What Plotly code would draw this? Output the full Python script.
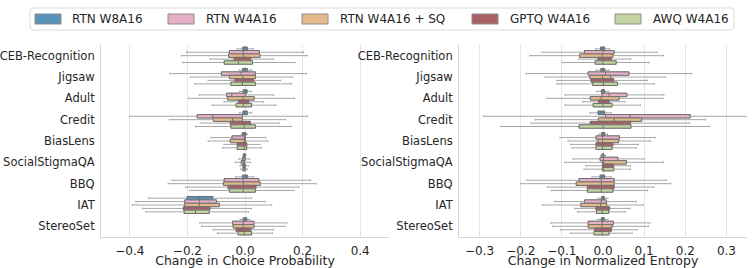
import plotly.graph_objects as go

categories = ["CEB-Recognition", "Jigsaw", "Adult", "Credit", "BiasLens",
              "SocialStigmaQA", "BBQ", "IAT", "StereoSet"]
methods = ["RTN W8A16", "RTN W4A16", "RTN W4A16 + SQ", "GPTQ W4A16", "AWQ W4A16"]
colors = ["#5a91b9", "#e8b0c8", "#e6b98c", "#aa5f64", "#c4d4a0"]

# each row: [lower whisker, q1, median, q3, upper whisker], one row per category
prob_rtn_w8 = [
    [-0.027, -0.008, 0.000, 0.008, 0.029],
    [-0.020, -0.008, 0.000, 0.008, 0.023],
    [-0.020, -0.006, 0.001, 0.007, 0.023],
    [-0.020, -0.007, 0.000, 0.008, 0.023],
    [-0.013, -0.008, -0.002, 0.003, 0.008],
    [-0.008, -0.005, -0.002, 0.001, 0.004],
    [-0.032, -0.009, 0.001, 0.009, 0.031],
    [-0.335, -0.201, -0.159, -0.112, 0.023],
    [-0.017, -0.006, 0.000, 0.006, 0.017],
]
prob_rtn_w4 = [
    [-0.203, -0.054, -0.006, 0.050, 0.203],
    [-0.261, -0.082, -0.014, 0.036, 0.214],
    [-0.159, -0.064, -0.046, 0.001, 0.099],
    [-0.400, -0.166, -0.112, -0.009, 0.217],
    [-0.118, -0.045, -0.002, 0.001, 0.072],
    [-0.022, -0.009, -0.003, 0.001, 0.016],
    [-0.253, -0.072, -0.006, 0.048, 0.228],
    [-0.379, -0.209, -0.159, -0.099, 0.070],
    [-0.157, -0.043, -0.006, 0.031, 0.145],
]
prob_rtn_w4_sq = [
    [-0.221, -0.057, -0.006, 0.052, 0.217],
    [-0.189, -0.054, -0.008, 0.036, 0.166],
    [-0.197, -0.060, -0.006, 0.032, 0.172],
    [-0.263, -0.110, -0.043, -0.009, 0.141],
    [-0.128, -0.051, -0.002, 0.001, 0.079],
    [-0.034, -0.013, -0.006, -0.002, 0.020],
    [-0.267, -0.075, -0.006, 0.053, 0.247],
    [-0.392, -0.209, -0.159, -0.089, 0.093],
    [-0.151, -0.041, -0.006, 0.031, 0.139],
]
prob_gptq_w4 = [
    [-0.122, -0.038, -0.012, 0.020, 0.099],
    [-0.128, -0.035, -0.006, 0.029, 0.124],
    [-0.073, -0.022, -0.003, 0.013, 0.064],
    [-0.153, -0.051, -0.006, 0.019, 0.119],
    [-0.073, -0.027, -0.003, 0.006, 0.052],
    [-0.017, -0.007, -0.003, 0.001, 0.012],
    [-0.206, -0.059, -0.006, 0.038, 0.186],
    [-0.356, -0.214, -0.168, -0.122, 0.023],
    [-0.110, -0.031, -0.006, 0.020, 0.099],
]
prob_awq_w4 = [
    [-0.217, -0.072, -0.023, 0.026, 0.173],
    [-0.174, -0.049, -0.009, 0.036, 0.161],
    [-0.114, -0.031, -0.006, 0.023, 0.107],
    [-0.172, -0.049, -0.003, 0.036, 0.160],
    [-0.078, -0.027, -0.003, 0.006, 0.058],
    [-0.015, -0.007, -0.003, 0.001, 0.008],
    [-0.191, -0.054, -0.006, 0.036, 0.170],
    [-0.344, -0.211, -0.172, -0.124, 0.012],
    [-0.096, -0.024, -0.003, 0.023, 0.095],
]

ent_rtn_w8 = [
    [-0.018, -0.006, -0.001, 0.004, 0.016],
    [-0.017, -0.005, -0.001, 0.004, 0.015],
    [-0.016, -0.004, 0.000, 0.004, 0.014],
    [-0.032, -0.012, -0.004, 0.004, 0.020],
    [-0.010, -0.003, 0.000, 0.004, 0.011],
    [-0.006, -0.002, 0.000, 0.002, 0.006],
    [-0.027, -0.007, -0.002, 0.004, 0.020],
    [-0.012, -0.003, 0.000, 0.003, 0.012],
    [-0.014, -0.004, -0.001, 0.003, 0.012],
]
ent_rtn_w4 = [
    [-0.148, -0.045, 0.000, 0.027, 0.132],
    [-0.187, -0.036, 0.006, 0.063, 0.215],
    [-0.092, -0.002, 0.015, 0.058, 0.148],
    [-0.290, 0.006, 0.066, 0.212, 0.355],
    [-0.105, -0.017, -0.001, 0.040, 0.127],
    [-0.073, -0.007, 0.001, 0.036, 0.100],
    [-0.185, -0.058, -0.004, 0.027, 0.154],
    [-0.118, -0.045, -0.004, 0.008, 0.081],
    [-0.127, -0.036, -0.002, 0.025, 0.114],
]
ent_rtn_w4_sq = [
    [-0.178, -0.057, -0.002, 0.024, 0.147],
    [-0.141, -0.032, -0.001, 0.019, 0.152],
    [-0.136, -0.031, -0.004, 0.039, 0.146],
    [-0.165, -0.011, 0.027, 0.094, 0.249],
    [-0.085, -0.012, -0.001, 0.038, 0.115],
    [-0.093, -0.002, 0.002, 0.057, 0.147],
    [-0.200, -0.065, -0.004, 0.027, 0.165],
    [-0.147, -0.054, -0.006, 0.009, 0.098],
    [-0.123, -0.036, -0.002, 0.022, 0.111],
]
ent_gptq_w4 = [
    [-0.059, -0.012, 0.002, 0.020, 0.067],
    [-0.112, -0.029, 0.001, 0.026, 0.108],
    [-0.049, -0.011, 0.001, 0.015, 0.054],
    [-0.175, -0.031, 0.008, 0.067, 0.211],
    [-0.079, -0.017, -0.001, 0.024, 0.086],
    [-0.042, -0.001, 0.002, 0.026, 0.067],
    [-0.136, -0.038, -0.004, 0.027, 0.124],
    [-0.069, -0.017, -0.002, 0.016, 0.066],
    [-0.103, -0.020, -0.002, 0.020, 0.083],
]
ent_awq_w4 = [
    [-0.099, -0.019, 0.000, 0.032, 0.112],
    [-0.112, -0.025, 0.001, 0.035, 0.125],
    [-0.092, -0.024, 0.000, 0.022, 0.091],
    [-0.248, -0.058, 0.000, 0.068, 0.259],
    [-0.075, -0.017, -0.001, 0.022, 0.081],
    [-0.046, -0.002, 0.002, 0.026, 0.067],
    [-0.126, -0.038, -0.004, 0.024, 0.108],
    [-0.062, -0.016, -0.002, 0.014, 0.054],
    [-0.079, -0.022, -0.002, 0.015, 0.071],
]

prob_stats = [prob_rtn_w8, prob_rtn_w4, prob_rtn_w4_sq, prob_gptq_w4, prob_awq_w4]
ent_stats = [ent_rtn_w8, ent_rtn_w4, ent_rtn_w4_sq, ent_gptq_w4, ent_awq_w4]

W, H = 753, 268
WHISK = "#a6a6a6"
EDGE = "#6e6e6e"
GRID = "#e6e6e6"
SPINE = "#d6d6d6"
TXT = "#262626"

fig = go.Figure()
for panel, (stats_list, xa, ya) in enumerate([(prob_stats, "x", "y"), (ent_stats, "x2", "y2")]):
    for m, c, rows in zip(methods, colors, stats_list):
        lo = [r[0] for r in rows]
        q1 = [r[1] for r in rows]
        med = [r[2] for r in rows]
        q3 = [r[3] for r in rows]
        hi = [r[4] for r in rows]
        # whiskers
        fig.add_trace(go.Box(
            y=categories, q1=q1, median=med, q3=q3, lowerfence=lo, upperfence=hi,
            orientation="h", xaxis=xa, yaxis=ya, offsetgroup=m,
            alignmentgroup="g%d" % panel, fillcolor="rgba(0,0,0,0)",
            line=dict(color=WHISK, width=1), whiskerwidth=0.5,
            showlegend=False, hoverinfo="skip", boxpoints=False))
        # filled box
        fig.add_trace(go.Box(
            y=categories, q1=q1, median=med, q3=q3, lowerfence=q1, upperfence=q3,
            orientation="h", xaxis=xa, yaxis=ya, offsetgroup=m,
            alignmentgroup="g%d" % panel, fillcolor=c,
            line=dict(color=EDGE, width=1), whiskerwidth=0,
            showlegend=False, hoverinfo="skip", boxpoints=False))

ydom = [1 - 237 / H, 1 - 45 / H]
common_x = dict(showgrid=True, gridcolor=GRID, gridwidth=1, zeroline=False,
                showline=True, linecolor=SPINE, linewidth=1, ticks="outside",
                ticklen=3, tickcolor="rgba(0,0,0,0)", tickformat=".1f",
                tickfont=dict(size=12, color=TXT), automargin=False)
common_y = dict(showgrid=False, zeroline=False, showline=True, linecolor=SPINE,
                linewidth=1, ticks="outside", ticklen=3,
                tickcolor="rgba(0,0,0,0)", categoryorder="array",
                categoryarray=categories, range=[len(categories) - 0.5, -0.5],
                tickfont=dict(size=11.5, color=TXT), domain=ydom, automargin=False)

fig.update_layout(
    width=W, height=H, margin=dict(l=0, r=0, t=0, b=0, autoexpand=False),
    plot_bgcolor="white", paper_bgcolor="white",
    boxmode="group", boxgap=0.2, boxgroupgap=0,
    font=dict(family="DejaVu Sans", color=TXT, size=12),
    showlegend=False,
    xaxis=dict(domain=[101 / W, 389 / W], range=[-0.5, 0.5],
               tickvals=[-0.4, -0.2, 0, 0.2, 0.4], anchor="y",
               title=dict(text="Change in Choice Probability",
                          font=dict(size=12.5, color=TXT), standoff=1),
               **common_x),
    yaxis=dict(anchor="x", **common_y),
    xaxis2=dict(domain=[459 / W, 747 / W], range=[-0.35, 0.35],
                tickvals=[-0.3, -0.2, -0.1, 0, 0.1, 0.2, 0.3], anchor="y2",
                title=dict(text="Change in Normalized Entropy",
                           font=dict(size=12.5, color=TXT), standoff=1),
                **common_x),
    yaxis2=dict(anchor="x2", **common_y),
)

# legend drawn as shapes + text
def px(x):
    return x / W

def py(y):
    return 1 - y / H

lx0, lx1, ly0, ly1, r = 30, 734, 8, 30, 3
path = ("M %f,%f L %f,%f Q %f,%f %f,%f L %f,%f Q %f,%f %f,%f L %f,%f Q %f,%f %f,%f "
        "L %f,%f Q %f,%f %f,%f Z") % (
    px(lx0 + r), py(ly0), px(lx1 - r), py(ly0), px(lx1), py(ly0), px(lx1), py(ly0 + r),
    px(lx1), py(ly1 - r), px(lx1), py(ly1), px(lx1 - r), py(ly1),
    px(lx0 + r), py(ly1), px(lx0), py(ly1), px(lx0), py(ly1 - r),
    px(lx0), py(ly0 + r), px(lx0), py(ly0), px(lx0 + r), py(ly0))
fig.add_shape(type="path", path=path, xref="paper", yref="paper",
              line=dict(color="#dcdcdc", width=1), fillcolor="white", layer="above")

patch_x = [35, 168, 302, 472, 615]
text_x = [70, 204, 338, 508, 651]
for m, c, xp, xt in zip(methods, colors, patch_x, text_x):
    fig.add_shape(type="rect", xref="paper", yref="paper",
                  x0=px(xp), x1=px(xp + 26), y0=py(24), y1=py(14),
                  fillcolor=c, line=dict(color="#8c8c8c", width=1), layer="above")
    fig.add_annotation(text=m, xref="paper", yref="paper", x=px(xt), y=py(19),
                       xanchor="left", yanchor="middle", showarrow=False,
                       font=dict(size=12, color=TXT))

fig.write_html("out.html", config={"displayModeBar": False},
               post_script="document.body.style.margin='0';document.body.style.overflow='hidden';")
